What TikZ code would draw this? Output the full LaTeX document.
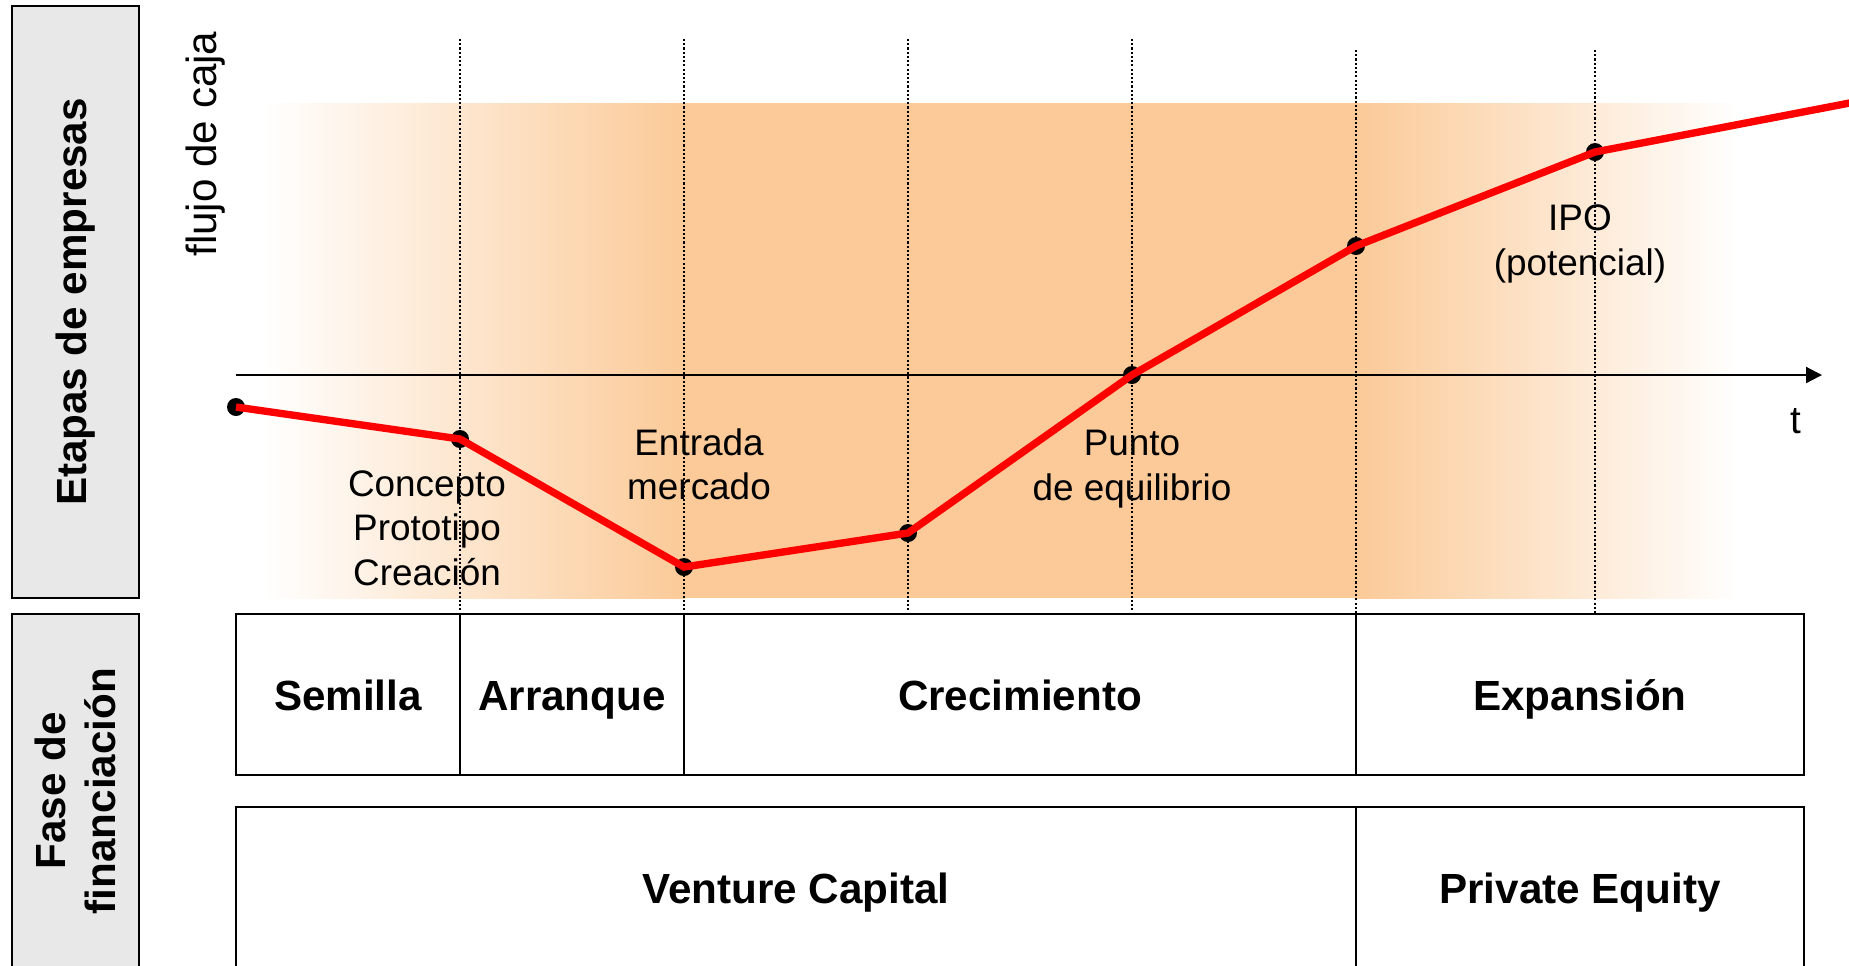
\documentclass[tikz,border=0pt]{standalone}
\usepackage{fontspec}
\setmainfont{Liberation Sans}
\usetikzlibrary{positioning,arrows.meta}
\definecolor{naranja}{RGB}{251,202,152}
\definecolor{grisclaro}{RGB}{232,232,232}
\tikzset{fase/.style = {draw,line width=0.7pt,rectangle,inner sep=0,outer sep=0,minimum height=16.1mm,text height=0.9em,text depth=0pt,font=\fontsize{12}{14.4}\selectfont\bfseries},
         hito/.style = {align=center,font=\fontsize{10.5}{12.6}\selectfont},
         guia/.style = {line width=0.5pt,dash pattern=on 0.6pt off 0.6pt},
         titulo/.style = {draw,line width=0.7pt,fill=grisclaro,rotate=90,inner sep=0,outer sep=0,minimum height=12.7mm,align=center,font=\fontsize{12}{14.4}\selectfont\bfseries}}

\begin{document}
\begin{tikzpicture}[x=0.1mm,y=-0.1mm]
            \useasboundingbox (0,0) rectangle (1849,965);
            \clip (0,0) rectangle (1849,965);
            % banda de fondo
            \shade[left color=white,right color=naranja] (262,103) rectangle (685,598);
            \fill[naranja] (684,103) rectangle (1357,598);
            \shade[left color=naranja,right color=white] (1356,103) rectangle (1740,598);
            \foreach \x in {460,684,908,1132} {
                \draw[guia] (\x,39) -- (\x,614);
            }
            \foreach \x in {1356,1595} {
                \draw[guia] (\x,50) -- (\x,614);
            }
            \coordinate (origen) at (236,375);
            \coordinate (fin) at (1822,375);
            \draw[line width=0.6pt,-{Triangle[length=1.6mm,width=1.6mm]}] (origen) -- (fin);
            \coordinate (p0) at (236,407);
            \coordinate (p1) at (460,439);
            \coordinate (p2) at (684,567);
            \coordinate (p3) at (908,533);
            \coordinate (p4) at (1132,375);
            \coordinate (p5) at (1356,246);
            \coordinate (p6) at (1595,152);
            \coordinate (p7) at (1860,101);
            \foreach \p in {p0,p1,p2,p3,p4,p5,p6} {
                \fill (\p) circle[radius=0.9mm];
            }
            \draw[red,line width=2.1pt] (p0) -- (p1) -- (p2) -- (p3) -- (p4) -- (p5) -- (p6) -- (p7);
            \node[hito] (concepto) at (427,528) {Concepto\\Prototipo\\Creación};
            \node[hito] (entrada) at (699,464) {Entrada\\mercado};
            \node[hito] (equilibrio) at (1132,469) {Punto\\de equilibrio};
            \node[hito] (ipo) at (1580,244) {IPO\\(potencial)};
            \node[font=\fontsize{11}{13}\selectfont] (t) at (1796,421) {t};
            \node[rotate=90,font=\fontsize{12}{14.4}\selectfont] (flujo) at (206,144) {flujo de caja};
            % fases
            \node[fase,minimum width=22.4mm,anchor=north west] (semilla) at (236,614) {Semilla};
            \node[fase,minimum width=22.4mm,right=0pt of semilla] (arranque) {Arranque};
            \node[fase,minimum width=67.2mm,right=0pt of arranque] (crecimiento) {Crecimiento};
            \node[fase,minimum width=44.8mm,right=0pt of crecimiento] (expansion) {Expansión};
            \node[fase,minimum width=112mm,anchor=north west] (venture) at (236,807) {Venture Capital};
            \node[fase,minimum width=44.8mm,right=0pt of venture] (private) {Private Equity};
            \node[titulo,minimum width=59.2mm] (etapas) at (75.5,302) {Etapas de empresas};
            \node[titulo,minimum width=35.4mm] (financiacion) at (75.5,791) {Fase de\\financiación};
        \end{tikzpicture}
\end{document}
